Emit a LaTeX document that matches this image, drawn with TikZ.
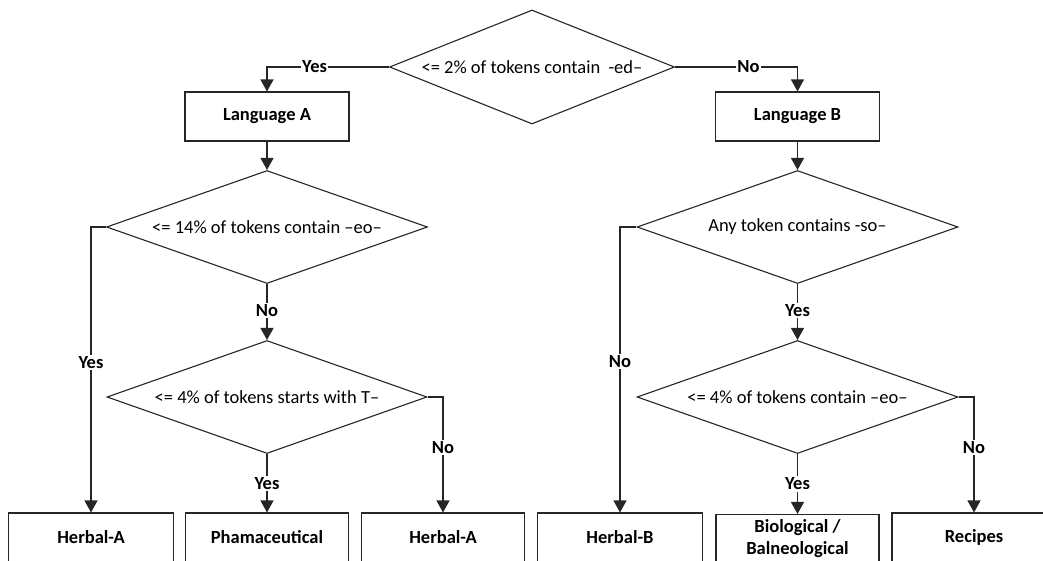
\documentclass[tikz,border=0pt]{standalone}
\usepackage{fontspec}
\setmainfont{Carlito}
\usetikzlibrary{shapes.geometric,arrows.meta}
\begin{document}
\begin{tikzpicture}[x=1pt,y=-1pt,
  font=\fontsize{18.5}{21}\selectfont,
  line/.style={draw=black!85,line width=1.1pt},
  arr/.style={line,-{Triangle[length=12pt,width=13pt]}},
  dec/.style={shape=diamond,draw=black!85,line width=1.1pt,inner sep=0pt,fill=white},
  box/.style={draw=black!85,line width=1.1pt,minimum width=164pt,minimum height=49pt,inner sep=0pt,align=center,font=\fontsize{18.5}{22}\selectfont\bfseries},
  lbl/.style={fill=white,inner sep=1.5pt,font=\fontsize{18.5}{21}\selectfont\bfseries}]
\useasboundingbox (0,0) rectangle (1043,560);
\clip (0,0) rectangle (1043,560);
% decisions
\node[dec,aspect=2.5,minimum width=285pt,minimum height=114pt] (d1) at (532,67) {<= 2\% of tokens contain\ \ -ed–};
\node[dec,aspect=2.84,minimum width=321pt,minimum height=113pt] (d2) at (267,227) {<= 14\% of tokens contain –eo–};
\node[dec,aspect=2.84,minimum width=321pt,minimum height=113pt] (d3) at (797.5,227) {Any token contains -so–};
\node[dec,aspect=2.84,minimum width=320pt,minimum height=113pt] (d4) at (267,397) {<= 4\% of tokens starts with T–};
\node[dec,aspect=2.84,minimum width=321pt,minimum height=113pt] (d5) at (797.5,397) {<= 4\% of tokens contain –eo–};
% boxes
\node[box] (la) at (267,116.5) {Language A};
\node[box] (lb) at (797.5,116.5) {Language B};
\node[box,minimum width=165pt] (b1) at (91,537.5) {Herbal-A};
\node[box,minimum width=163pt] (b2) at (267,537.5) {Phamaceutical};
\node[box,minimum width=163pt] (b3) at (443,537.5) {Herbal-A};
\node[box,minimum width=165pt] (b4) at (620,537.5) {Herbal-B};
\node[box,minimum width=163pt] (b5) at (797.5,539) {Biological /\\Balneological};
\node[box,minimum width=164pt] (b6) at (974,537.5) {Recipes};
% connectors
\draw[arr] (d1.west) -| node[lbl,pos=0.305]{Yes} (la.north);
\draw[arr] (d1.east) -| node[lbl,pos=0.3]{No} (lb.north);
\draw[arr] (la.south) -- (d2.north);
\draw[arr] (lb.south) -- (d3.north);
\draw[arr] (d2.west) -| node[lbl,pos=0.738]{Yes} (b1.north);
\draw[arr] (d2.south) -- node[lbl,pos=0.48]{No} (d4.north);
\draw[arr] (d4.south) -- node[lbl,pos=0.5]{Yes} (b2.north);
\draw[arr] (d4.east) -| node[lbl,pos=0.72]{No} (b3.north);
\draw[arr] (d3.west) -| node[lbl,pos=0.736]{No} (b4.north);
\draw[arr] (d3.south) -- node[lbl,pos=0.48]{Yes} (d5.north);
\draw[arr] (d5.south) -- node[lbl,pos=0.5]{Yes} (b5.north);
\draw[arr] (d5.east) -| node[lbl,pos=0.72]{No} (b6.north);
\end{tikzpicture}
\end{document}
